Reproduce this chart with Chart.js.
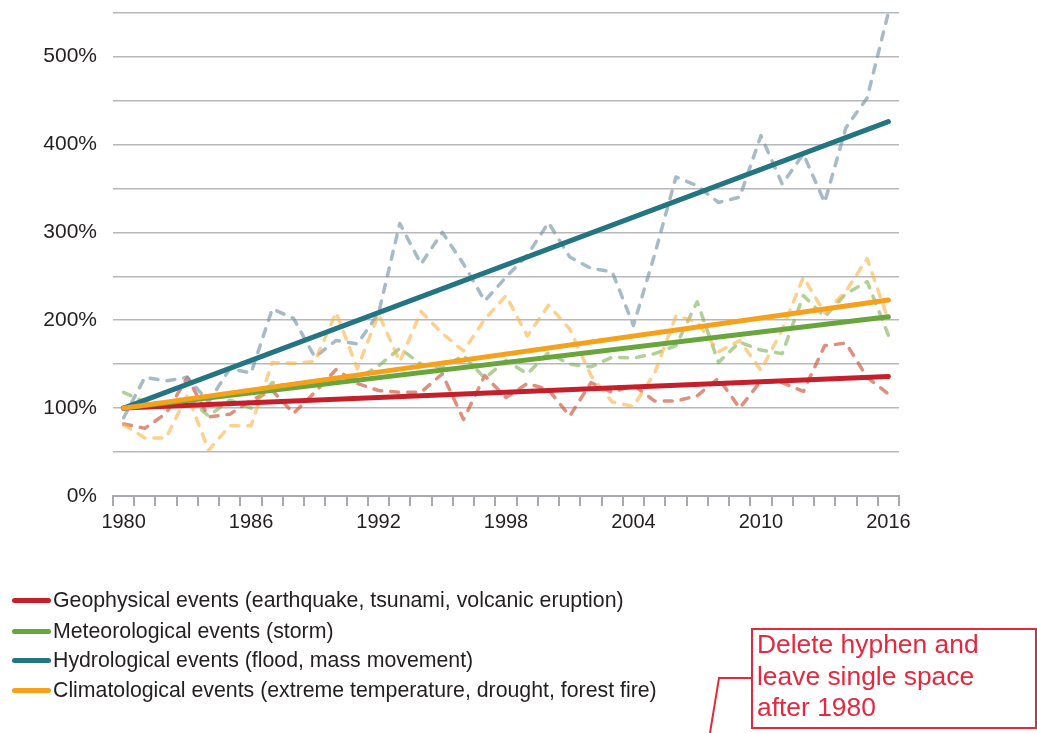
<!DOCTYPE html>
<html>
<head>
<meta charset="utf-8">
<script src="https://cdn.jsdelivr.net/npm/chart.js@4/dist/chart.umd.min.js"></script>
<style>
  html, body { margin: 0; padding: 0; background: #fff; }
  #wrap { position: relative; width: 1037px; height: 733px; overflow: hidden; font-family: "Liberation Sans", Arial, sans-serif; }
  #c { position: absolute; left: 0; top: -16px; }
  .leg { position: absolute; left: 0; height: 30px; line-height: 30px; font-size: 21.3px; color: #231f20; white-space: nowrap; }
  .leg span.sw { position: absolute; left: 12px; top: 13px; width: 39px; height: 5px; border-radius: 3px; }
  .leg span.tx { position: absolute; left: 53px; top: 0; }
  #note { position: absolute; left: 751px; top: 628px; width: 282px; height: 97px; border: 2px solid #e5283f; }
  #notetext { position: absolute; left: 757px; top: 629px; font-size: 26.4px; line-height: 31.5px; color: #e5283f; white-space: nowrap; }
  #leader { position: absolute; left: 0; top: 0; }
</style>
</head>
<body>
<div id="wrap">
  <canvas id="c" width="1037" height="749"></canvas>
  <div id="legend"></div>
  <svg id="leader" width="1037" height="733"><polyline points="751,678 719,678 710,733" fill="none" stroke="#e5283f" stroke-width="2"/></svg>
  <div id="note"></div>
  <div id="notetext">Delete hyphen and<br>leave single space<br>after 1980</div>
</div>
<script>
// ---- data ----
const years = ["1980","1981","1982","1983","1984","1985","1986","1987","1988","1989",
               "1990","1991","1992","1993","1994","1995","1996","1997","1998","1999",
               "2000","2001","2002","2003","2004","2005","2006","2007","2008","2009",
               "2010","2011","2012","2013","2014","2015","2016"];
const yTickLabelsEvery = 100; // labels at 0%,100%,...,500%

const geoEvents  = [82,77,94,135,90,93,109,120,94,118,144,128,120,118,118,139,87,137,112,128,121,91,129,118,126,108,108,114,134,100,131,129,119,171,174,135,116];
const metEvents  = [118,107,106,112,91,109,100,129,124,128,130,133,148,168,150,146,160,134,154,139,163,150,147,158,157,162,171,221,152,175,166,162,228,204,230,244,183];
const hydEvents  = [89,135,131,135,107,145,140,213,202,158,177,173,208,310,264,300,264,222,249,274,311,272,259,255,194,275,363,353,334,340,410,355,389,334,419,453,550];
const climEvents = [81,66,66,115,52,80,80,152,151,153,209,145,207,153,210,185,165,201,228,182,217,190,137,107,102,140,205,198,164,177,143,189,249,208,233,270,200];

// trend lines: value at 1980 and at 2016
const geoTrend  = [100, 136];
const metTrend  = [100, 204];
const hydTrend  = [100, 426];
const climTrend = [100, 223];

const seriesNames = [
  "Geophysical events (earthquake, tsunami, volcanic eruption)",
  "Meteorological events (storm)",
  "Hydrological events (flood, mass movement)",
  "Climatological events (extreme temperature, drought, forest fire)"
];

// ---- styles ----
const trendColors = ["#c41f2a", "#68a53c", "#227581", "#f5a11c"];
const dashColors  = ["rgba(210,95,70,0.7)", "rgba(125,175,85,0.6)", "rgba(120,150,168,0.65)", "rgba(250,178,70,0.6)"];

function endsOnly(ends) {
  return years.map((_, i) => i === 0 ? ends[0] : (i === years.length - 1 ? ends[1] : null));
}

const dashed = [geoEvents, metEvents, hydEvents, climEvents].map((d, k) => ({
  label: seriesNames[k] + " (annual)",
  data: d,
  borderColor: dashColors[k],
  borderWidth: 3.5,
  borderDash: [8, 9],
  borderCapStyle: 'round',
  borderJoinStyle: 'round',
  pointRadius: 0,
  fill: false,
  tension: 0,
  order: 8 - k
}));
const trends = [geoTrend, metTrend, hydTrend, climTrend].map((t, k) => ({
  label: seriesNames[k],
  data: endsOnly(t),
  borderColor: trendColors[k],
  borderWidth: 5,
  borderCapStyle: 'round',
  pointRadius: 0,
  spanGaps: true,
  fill: false,
  tension: 0,
  order: 4 - k
}));

const FONT = { family: "'Liberation Sans', Arial, sans-serif", size: 20 };
const YFONT = { family: "'Liberation Sans', Arial, sans-serif", size: 21 };

new Chart(document.getElementById('c'), {
  type: 'line',
  data: { labels: years, datasets: dashed.concat(trends) },
  options: {
    responsive: false,
    animation: false,
    devicePixelRatio: 1,
    layout: { padding: { left: 0, top: 11.5, right: 138, bottom: 197 } },
    plugins: { legend: { display: false }, tooltip: { enabled: false } },
    scales: {
      x: {
        type: 'category',
        offset: true,
        grid: { display: true, drawOnChartArea: false, drawTicks: true, tickLength: 10, color: '#a9a9ad', lineWidth: 2, offset: true },
        border: { display: true, color: '#a9a9ad', width: 2 },
        ticks: {
          autoSkip: false, maxRotation: 0, minRotation: 0, padding: 4,
          color: '#231f20', font: FONT,
          callback: function (v, i) { return i % 6 === 0 ? years[i] : ''; }
        },
        afterFit: function (s) { s.height = 40; }
      },
      y: {
        min: 0, max: 550,
        grid: { color: '#b8b8bc', lineWidth: 1.5, drawTicks: false },
        border: { display: false },
        ticks: {
          stepSize: 50, padding: 16, color: '#231f20', font: YFONT,
          callback: function (v) { return v % yTickLabelsEvery === 0 ? v + '%' : ''; }
        },
        afterFit: function (s) { s.width = 113; }
      }
    }
  }
});

// legend (HTML text)
const legTops = [585, 616, 645, 675];
const legend = document.getElementById('legend');
seriesNames.forEach((n, k) => {
  const d = document.createElement('div');
  d.className = 'leg';
  d.style.top = legTops[k] + 'px';
  d.innerHTML = '<span class="sw" style="background:' + trendColors[k] + '"></span><span class="tx"></span>';
  d.querySelector('.tx').textContent = n;
  legend.appendChild(d);
});
</script>
</body>
</html>
